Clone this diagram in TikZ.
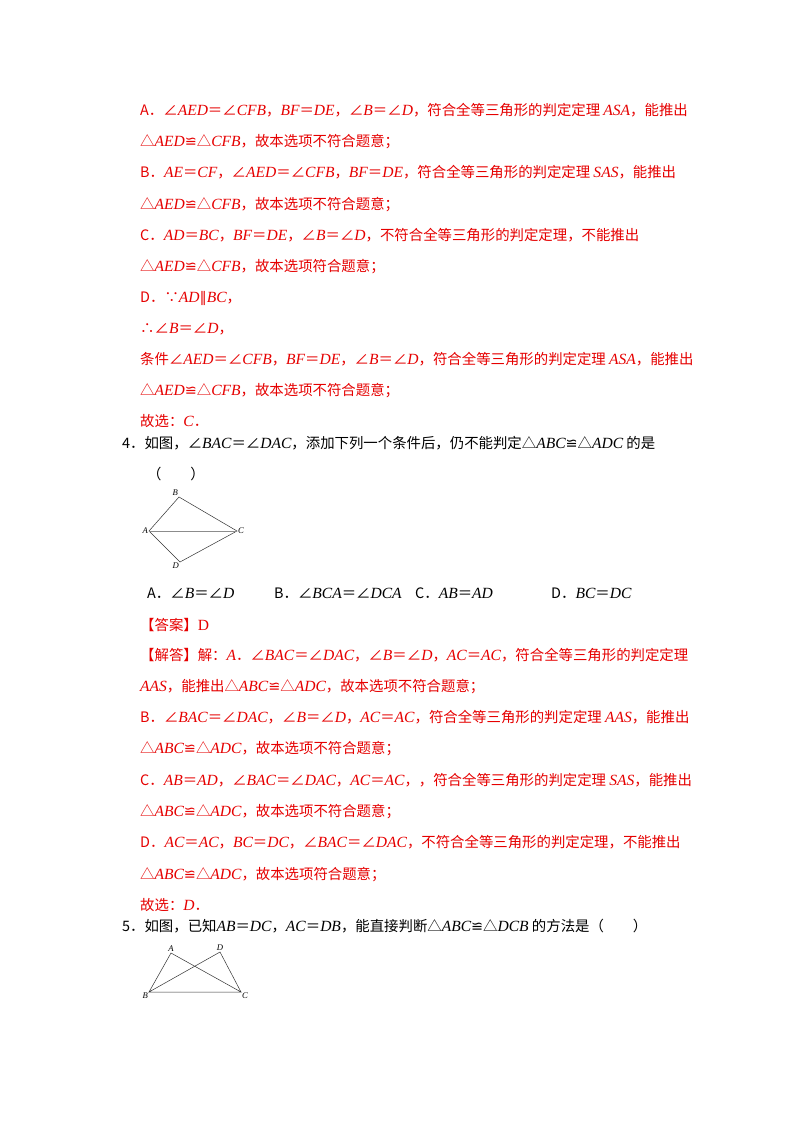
\documentclass[tikz,border=0pt]{standalone}
\usepackage{fontspec}
\setmainfont{Noto Sans CJK SC}
\newfontfamily\latin[Scale=1.08]{Liberation Serif}
\newfontfamily\djv{DejaVu Sans}
\newcommand\mi[1]{{\latin\itshape #1}}
\newcommand\cg{{\djv ≌}}
\newcommand\pl{{\djv ∥}}
\definecolor{ans}{RGB}{230,0,0}
\begin{document}
\begin{tikzpicture}[x=1pt,y=-1pt,
  t/.style={anchor=base west,inner sep=0,font=\fontsize{14.4}{16}\selectfont},
  r/.style={t,text=ans},
  lbl/.style={font=\fontsize{8}{9}\selectfont\latin\itshape,inner sep=1pt},
  fig/.style={draw=black!80,line width=0.5pt}]
\useasboundingbox (0,0) rectangle (800,1132);
\fill[white] (0,0) rectangle (800,1132);
\node[r] (l1) at (140,115) {A．∠\mi{AED}＝∠\mi{CFB}，\mi{BF}＝\mi{DE}，∠\mi{B}＝∠\mi{D}，符合全等三角形的判定定理 \mi{ASA}，能推出};
\node[r] (l2) at (140,146) {△\mi{AED}\cg△\mi{CFB}，故本选项不符合题意；};
\node[r] (l3) at (140,177) {B．\mi{AE}＝\mi{CF}，∠\mi{AED}＝∠\mi{CFB}，\mi{BF}＝\mi{DE}，符合全等三角形的判定定理 \mi{SAS}，能推出};
\node[r] (l4) at (140,209) {△\mi{AED}\cg△\mi{CFB}，故本选项不符合题意；};
\node[r] (l5) at (140,240) {C．\mi{AD}＝\mi{BC}，\mi{BF}＝\mi{DE}，∠\mi{B}＝∠\mi{D}，不符合全等三角形的判定定理，不能推出};
\node[r] (l6) at (140,271) {△\mi{AED}\cg△\mi{CFB}，故本选项符合题意；};
\node[r] (l7) at (140,302) {D．∵\mi{AD}\pl\mi{BC}，};
\node[r] (l8) at (140,333) {∴∠\mi{B}＝∠\mi{D}，};
\node[r] (l9) at (140,364) {条件∠\mi{AED}＝∠\mi{CFB}，\mi{BF}＝\mi{DE}，∠\mi{B}＝∠\mi{D}，符合全等三角形的判定定理 \mi{ASA}，能推出};
\node[r] (l10) at (140,395) {△\mi{AED}\cg△\mi{CFB}，故本选项不符合题意；};
\node[r] (l11) at (140,426) {故选：\mi{C}．};
\node[t] (q4) at (122,448) {4．如图，∠\mi{BAC}＝∠\mi{DAC}，添加下列一个条件后，仍不能判定△\mi{ABC}\cg△\mi{ADC} 的是};
\node[t] (q4b) at (147,479) {（　　）};
% figure 1
\coordinate (A1) at (149,531); \coordinate (B1) at (179,497);
\coordinate (C1) at (237,531); \coordinate (D1) at (180,562);
\draw[fig] (A1)--(B1)--(C1)--(D1)--cycle;
\draw[fig,draw=black!45] (A1)--(C1);
\node[lbl,anchor=east] (la1) at (A1) {A};
\node[lbl,anchor=south east] (lb1) at (B1) {B};
\node[lbl,anchor=west] (lc1) at (C1) {C};
\node[lbl,anchor=north east] (ld1) at (D1) {D};
\node[t] (o1) at (147,598) {A．∠\mi{B}＝∠\mi{D}};
\node[t] (o2) at (274,598) {B．∠\mi{BCA}＝∠\mi{DCA}};
\node[t] (o3) at (415,598) {C．\mi{AB}＝\mi{AD}};
\node[t] (o4) at (551,598) {D．\mi{BC}＝\mi{DC}};
\node[r] (k0) at (140,630) {【答案】{\latin D}};
\node[r] (k1) at (140,660) {【解答】解：\mi{A}．∠\mi{BAC}＝∠\mi{DAC}，∠\mi{B}＝∠\mi{D}，\mi{AC}＝\mi{AC}，符合全等三角形的判定定理};
\node[r] (k2) at (140,691) {\mi{AAS}，能推出△\mi{ABC}\cg△\mi{ADC}，故本选项不符合题意；};
\node[r] (k3) at (140,722) {B．∠\mi{BAC}＝∠\mi{DAC}，∠\mi{B}＝∠\mi{D}，\mi{AC}＝\mi{AC}，符合全等三角形的判定定理 \mi{AAS}，能推出};
\node[r] (k4) at (140,753) {△\mi{ABC}\cg△\mi{ADC}，故本选项不符合题意；};
\node[r] (k5) at (140,785) {C．\mi{AB}＝\mi{AD}，∠\mi{BAC}＝∠\mi{DAC}，\mi{AC}＝\mi{AC}，，符合全等三角形的判定定理 \mi{SAS}，能推出};
\node[r] (k6) at (140,816) {△\mi{ABC}\cg△\mi{ADC}，故本选项不符合题意；};
\node[r] (k7) at (140,847) {D．\mi{AC}＝\mi{AC}，\mi{BC}＝\mi{DC}，∠\mi{BAC}＝∠\mi{DAC}，不符合全等三角形的判定定理，不能推出};
\node[r] (k8) at (140,879) {△\mi{ABC}\cg△\mi{ADC}，故本选项符合题意；};
\node[r] (k9) at (140,910) {故选：\mi{D}．};
\node[t] (q5) at (122,931) {5．如图，已知\mi{AB}＝\mi{DC}，\mi{AC}＝\mi{DB}，能直接判断△\mi{ABC}\cg△\mi{DCB} 的方法是（　　）};
% figure 2
\coordinate (A2) at (171,953); \coordinate (D2) at (220,952);
\coordinate (B2) at (149,992); \coordinate (C2) at (241,992);
\draw[fig] (B2)--(A2)--(C2)--(D2)--(B2)--(C2);
\node[lbl,anchor=south] (la2) at (A2) {A};
\node[lbl,anchor=south] (ld2) at (D2) {D};
\node[lbl,anchor=north east] (lb2) at (B2) {B};
\node[lbl,anchor=north west] (lc2) at (C2) {C};
\end{tikzpicture}
\end{document}
